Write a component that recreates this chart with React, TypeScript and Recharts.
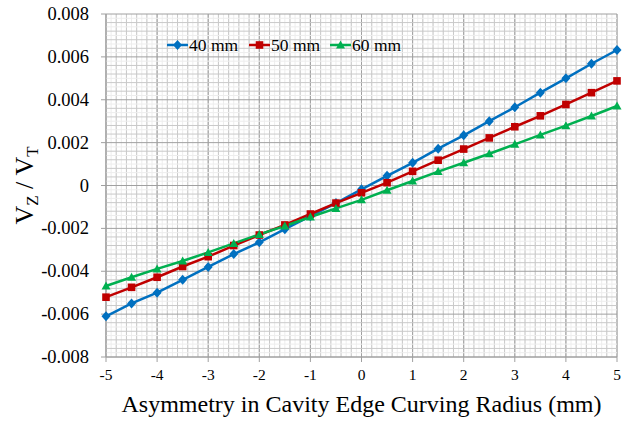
import React from "react";
import { LineChart, Line, XAxis, YAxis, CartesianGrid, ReferenceLine } from "recharts";

// asymmetry in cavity edge curving radius (mm)
const radius = [-5, -4.5, -4, -3.5, -3, -2.5, -2, -1.5, -1, -0.5, 0, 0.5, 1, 1.5, 2, 2.5, 3, 3.5, 4, 4.5, 5];

// Vz / Vt for each cavity size
const vz40 = [-0.0061, -0.0055, -0.005, -0.0044, -0.0038, -0.0032, -0.00265, -0.00204, -0.00143, -0.00082, -0.00018, 0.00045, 0.00106, 0.00172, 0.00234, 0.003, 0.00365, 0.00433, 0.005, 0.00568, 0.00632];
const vz50 = [-0.00521, -0.00475, -0.00428, -0.00378, -0.00332, -0.0028, -0.00231, -0.00184, -0.00133, -0.00082, -0.00034, 0.00013, 0.00066, 0.00118, 0.0017, 0.00222, 0.00274, 0.00325, 0.00378, 0.00433, 0.00488];
const vz60 = [-0.00469, -0.00428, -0.00389, -0.00352, -0.00312, -0.0027, -0.00228, -0.00189, -0.00147, -0.00107, -0.00067, -0.00022, 0.00021, 0.00065, 0.00106, 0.00148, 0.00192, 0.00236, 0.00279, 0.00324, 0.00371];

const xTicks = [-5, -4, -3, -2, -1, 0, 1, 2, 3, 4, 5];
const yTicks = [-0.008, -0.006, -0.004, -0.002, 0, 0.002, 0.004, 0.006, 0.008];

const seriesNames = ["40 mm", "50 mm", "60 mm"];
const colors = ["#0070c0", "#c00000", "#00b050"];

const data = radius.map((r, i) => ({ r, s40: vz40[i], s50: vz50[i], s60: vz60[i] }));

// grid sub-divisions (majors excluded)
const fineX = Array.from({ length: 101 }, (_, i) => -5 + i * 0.1);
const midX = Array.from({ length: 51 }, (_, i) => -5 + i * 0.2);
const fineY = Array.from({ length: 81 }, (_, i) => i).filter((i) => i % 2 === 1).map((i) => -0.008 + i * 0.0002);
const midY = Array.from({ length: 41 }, (_, i) => i).filter((i) => i % 5 !== 0).map((i) => -0.008 + i * 0.0004);

const font = "Liberation Serif";

const Marker = ({ kind, cx, cy, color }: any) => {
  if (kind === 0)
    return <path d={`M${cx},${cy - 5}L${cx + 4.5},${cy}L${cx},${cy + 5}L${cx - 4.5},${cy}Z`} fill={color} />;
  if (kind === 1) return <rect x={cx - 3.8} y={cy - 3.8} width={7.6} height={7.6} fill={color} />;
  return <path d={`M${cx},${cy - 4.5}L${cx + 4.5},${cy + 3.5}L${cx - 4.5},${cy + 3.5}Z`} fill={color} />;
};

const makeDot = (kind: number) => (props: any) => {
  const { cx, cy, index } = props;
  return <Marker key={`d-${kind}-${index}`} kind={kind} cx={cx} cy={cy} color={colors[kind]} />;
};

const LegendBox = () => {
  const starts = [167, 249, 330];
  return (
    <svg width={631} height={427} style={{ position: "absolute", left: 0, top: 0, pointerEvents: "none" }}>
      {seriesNames.map((n, i) => (
        <g key={n}>
          <line x1={starts[i]} y1={45} x2={starts[i] + 21} y2={45} stroke={colors[i]} strokeWidth={2.5} />
          <Marker kind={i} cx={starts[i] + 10.5} cy={45} color={colors[i]} />
          <text x={starts[i] + 22} y={51} fontFamily={font} fontSize={17.5} fill="#000">
            {n}
          </text>
        </g>
      ))}
    </svg>
  );
};

const XTick = ({ x, y, payload }: any) => (
  <text x={x} y={y + 16} textAnchor="middle" fontFamily={font} fontSize={15.5} fill="#000">
    {payload.value}
  </text>
);

const YTick = ({ x, y, payload }: any) => (
  <text x={x - 10} y={y + 6} textAnchor="end" fontFamily={font} fontSize={18.5} fill="#000">
    {payload.value === 0 ? "0" : payload.value.toFixed(3)}
  </text>
);

const YTitle = ({ viewBox }: any) => {
  const x = 33;
  const y = viewBox.y + viewBox.height / 2;
  return (
    <text x={x} y={y} transform={`rotate(-90, ${x}, ${y})`} textAnchor="middle" fontFamily={font} fontSize={26} fill="#000">
      V<tspan fontSize={17} dy={5}>Z</tspan>
      <tspan dy={-5}> / V</tspan>
      <tspan fontSize={17} dy={5}>T</tspan>
    </text>
  );
};

const XTitle = ({ viewBox }: any) => {
  const x = viewBox.x + viewBox.width / 2;
  return (
    <text x={x} y={412} textAnchor="middle" fontFamily={font} fontSize={24} fill="#000">
      Asymmetry in Cavity Edge Curving Radius (mm)
    </text>
  );
};

export default function App() {
  return (
    <div style={{ position: "absolute", left: 0, top: 0, width: 631, height: 427, background: "#fff" }}>
      <LineChart width={631} height={427} data={data} margin={{ top: 14, right: 14, left: 0, bottom: 0 }}>
        <XAxis xAxisId="fine" dataKey="r" type="number" domain={[-5, 5]} ticks={fineX} interval={0} hide />
        <XAxis xAxisId="mid" dataKey="r" type="number" domain={[-5, 5]} ticks={midX} interval={0} hide />
        <CartesianGrid xAxisId="fine" horizontal={false} stroke="#ededed" />
        <CartesianGrid xAxisId="mid" horizontal={false} stroke="#c9c9c9" />
        {fineY.map((v) => (
          <ReferenceLine key={`f${v}`} y={v} stroke="#ededed" strokeWidth={1} />
        ))}
        {midY.map((v) => (
          <ReferenceLine key={`m${v}`} y={v} stroke="#c9c9c9" strokeWidth={1} />
        ))}
        <CartesianGrid stroke="#a0a0a0" />
        <XAxis
          dataKey="r"
          type="number"
          domain={[-5, 5]}
          ticks={xTicks}
          interval={0}
          height={70}
          stroke="#a0a0a0"
          tickSize={5}
          tick={<XTick />}
          label={<XTitle />}
        />
        <YAxis
          type="number"
          domain={[-0.008, 0.008]}
          ticks={yTicks}
          interval={0}
          width={106}
          stroke="#a0a0a0"
          tickSize={5}
          tick={<YTick />}
          label={<YTitle />}
        />
        <Line dataKey="s40" name={seriesNames[0]} stroke={colors[0]} strokeWidth={2.5} dot={makeDot(0)} isAnimationActive={false} />
        <Line dataKey="s50" name={seriesNames[1]} stroke={colors[1]} strokeWidth={2.5} dot={makeDot(1)} isAnimationActive={false} />
        <Line dataKey="s60" name={seriesNames[2]} stroke={colors[2]} strokeWidth={2.5} dot={makeDot(2)} isAnimationActive={false} />
      </LineChart>
      <LegendBox />
    </div>
  );
}
